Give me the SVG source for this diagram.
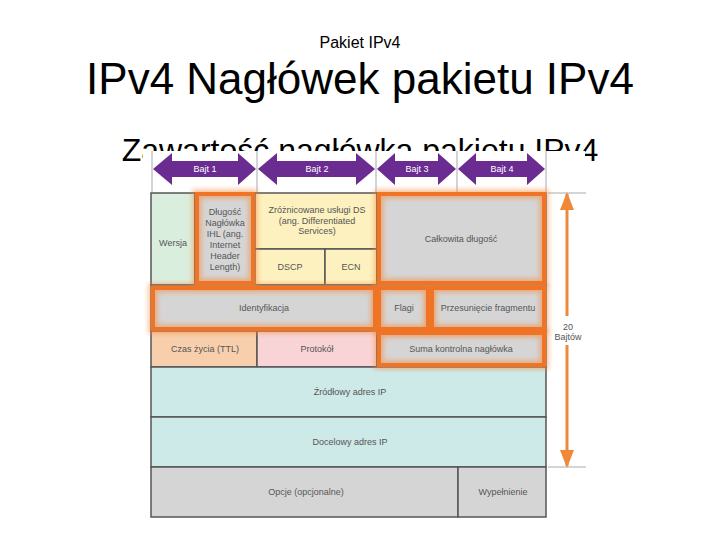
<svg xmlns="http://www.w3.org/2000/svg" width="720" height="540" viewBox="0 0 720 540">
<defs>
<style>
.t{font-family:"Liberation Sans",Arial,sans-serif;fill:#000}
.l{font-family:"Liberation Sans",Arial,sans-serif;font-size:9px;fill:#555;text-anchor:middle}
.b{font-family:"Liberation Sans",Arial,sans-serif;font-size:9px;fill:#fff;text-anchor:middle}
.c{stroke:#555;stroke-width:1.5}
.g{fill:#d5d5d6}
.hl{fill:none;stroke:#ef7426;stroke-width:4}
.glow{fill:none;stroke:#f58a3e;stroke-width:9;opacity:0.55;filter:url(#blur)}
.gl{stroke:#aaa;stroke-width:1}
.pa{fill:#6a2c91}
.oa{stroke:#f0883a;stroke-width:3;fill:none;marker-end:url(#oh)}
</style>
<filter id="blur" x="-20%" y="-20%" width="140%" height="140%"><feGaussianBlur stdDeviation="2.5"/></filter>
<marker id="oh" viewBox="0 0 18 14" refX="16" refY="7" markerWidth="6" markerHeight="4.7" orient="auto" markerUnits="strokeWidth"><path d="M0,0 L18,7 L0,14 Z" fill="#f0883a"/></marker>
</defs>
<rect width="720" height="540" fill="#fff"/>
<text class="t" x="360" y="48" font-size="16" text-anchor="middle">Pakiet IPv4</text>
<text class="t" x="360" y="94" font-size="44" text-anchor="middle">IPv4 Nagłówek pakietu IPv4</text>
<text class="t" x="360" y="161" font-size="32" text-anchor="middle">Zawartość nagłówka pakietu IPv4</text>
<rect x="143" y="151" width="442" height="380" fill="#fff"/>

<g id="connectors">
<line class="gl" x1="152" y1="151" x2="152" y2="193"/>
<line class="gl" x1="257" y1="151" x2="257" y2="193"/>
<line class="gl" x1="376" y1="151" x2="376" y2="193"/>
<line class="gl" x1="457" y1="151" x2="457" y2="193"/>
<line class="gl" x1="546" y1="151" x2="546" y2="193"/>
<line class="gl" x1="548" y1="193" x2="586" y2="193"/>
<line class="gl" x1="548" y1="467" x2="586" y2="467"/>
<g id="bajt1"><polygon class="pa" points="153,169 172,153 172,161 238,161 238,153 256,169 238,185 238,177 172,177 172,185"/><text class="b" x="205" y="172">Bajt 1</text></g>
<g id="bajt2"><polygon class="pa" points="258,169 277,153 277,161 356,161 356,153 375,169 356,185 356,177 277,177 277,185"/><text class="b" x="317" y="172">Bajt 2</text></g>
<g id="bajt3"><polygon class="pa" points="377,169 395,153 395,161 438,161 438,153 456,169 438,185 438,177 395,177 395,185"/><text class="b" x="417" y="172">Bajt 3</text></g>
<g id="bajt4"><polygon class="pa" points="458,169 476,153 476,161 527,161 527,153 545,169 527,185 527,177 476,177 476,185"/><text class="b" x="502" y="172">Bajt 4</text></g>
<g id="len20">
<line class="oa" x1="567" y1="316" x2="567" y2="194"/>
<line class="oa" x1="567" y1="345" x2="567" y2="466"/>
<text class="l" x="568" y="330">20</text>
<text class="l" x="568" y="340">Bajtów</text>
</g>
</g>

<g id="wersja"><rect class="c" x="151" y="193" width="44" height="92" fill="#d9eedd"/><text class="l" x="173" y="246">Wersja</text></g>
<g id="ihl"><rect class="c g" x="195" y="193" width="60" height="92"/>
<text class="l" x="225" y="215">Długość</text><text class="l" x="225" y="226">Nagłówka</text><text class="l" x="225" y="237">IHL (ang.</text><text class="l" x="225" y="248">Internet</text><text class="l" x="225" y="259">Header</text><text class="l" x="225" y="270">Length)</text></g>
<g id="ds"><rect class="c" x="255" y="193" width="122" height="56" fill="#fdf1c0"/>
<text class="l" x="317" y="213">Zróżnicowane usługi DS</text><text class="l" x="317" y="223.5">(ang. Differentiated</text><text class="l" x="317" y="234">Services)</text></g>
<g id="dscp"><rect class="c" x="255" y="249" width="70" height="36" fill="#fdf1c0"/><text class="l" x="290" y="270">DSCP</text></g>
<g id="ecn"><rect class="c" x="325" y="249" width="52" height="36" fill="#fdf1c0"/><text class="l" x="351" y="270">ECN</text></g>
<g id="calkowita"><rect class="c g" x="377" y="193" width="169" height="92"/><text class="l" x="461" y="242">Całkowita długość</text></g>
<g id="identyfikacja"><rect class="c g" x="151" y="285" width="226" height="46"/><text class="l" x="264" y="311">Identyfikacja</text></g>
<g id="flagi"><rect class="c g" x="377" y="285" width="53" height="46"/><text class="l" x="404" y="311">Flagi</text></g>
<g id="przesuniecie"><rect class="c g" x="430" y="285" width="116" height="46"/><text class="l" x="488" y="311">Przesunięcie fragmentu</text></g>
<g id="ttl"><rect class="c" x="151" y="331" width="106" height="36" fill="#f8cfac"/><text class="l" x="205" y="352">Czas życia (TTL)</text></g>
<g id="protokol"><rect class="c" x="257" y="331" width="120" height="36" fill="#f8d4d6"/><text class="l" x="317" y="352">Protokół</text></g>
<g id="suma"><rect class="c g" x="377" y="331" width="169" height="36"/><text class="l" x="461" y="352">Suma kontrolna nagłówka</text></g>
<g id="zrodlowy"><rect class="c" x="151" y="367" width="395" height="50" fill="#cde9e8"/><text class="l" x="350" y="395">Źródłowy adres IP</text></g>
<g id="docelowy"><rect class="c" x="151" y="417" width="395" height="50" fill="#cde9e8"/><text class="l" x="350" y="445">Docelowy adres IP</text></g>
<g id="opcje"><rect class="c g" x="151" y="467" width="307" height="50"/><text class="l" x="306" y="495">Opcje (opcjonalne)</text></g>
<g id="wypelnienie"><rect class="c g" x="458" y="467" width="88" height="50"/><text class="l" x="503" y="495">Wypełnienie</text></g>

<g id="highlights">
<rect class="glow" x="197" y="194" width="56" height="89"/>
<rect class="glow" x="379" y="194" width="165" height="89"/>
<rect class="glow" x="153" y="288" width="222" height="41"/>
<rect class="glow" x="379" y="288" width="49" height="41"/>
<rect class="glow" x="432" y="288" width="112" height="41"/>
<rect class="glow" x="379" y="333" width="165" height="32"/>
<rect class="hl" x="197" y="194" width="56" height="89"/>
<rect class="hl" x="379" y="194" width="165" height="89"/>
<rect class="hl" x="153" y="288" width="222" height="41"/>
<rect class="hl" x="379" y="288" width="49" height="41"/>
<rect class="hl" x="432" y="288" width="112" height="41"/>
<rect class="hl" x="379" y="333" width="165" height="32"/>
</g>
</svg>
